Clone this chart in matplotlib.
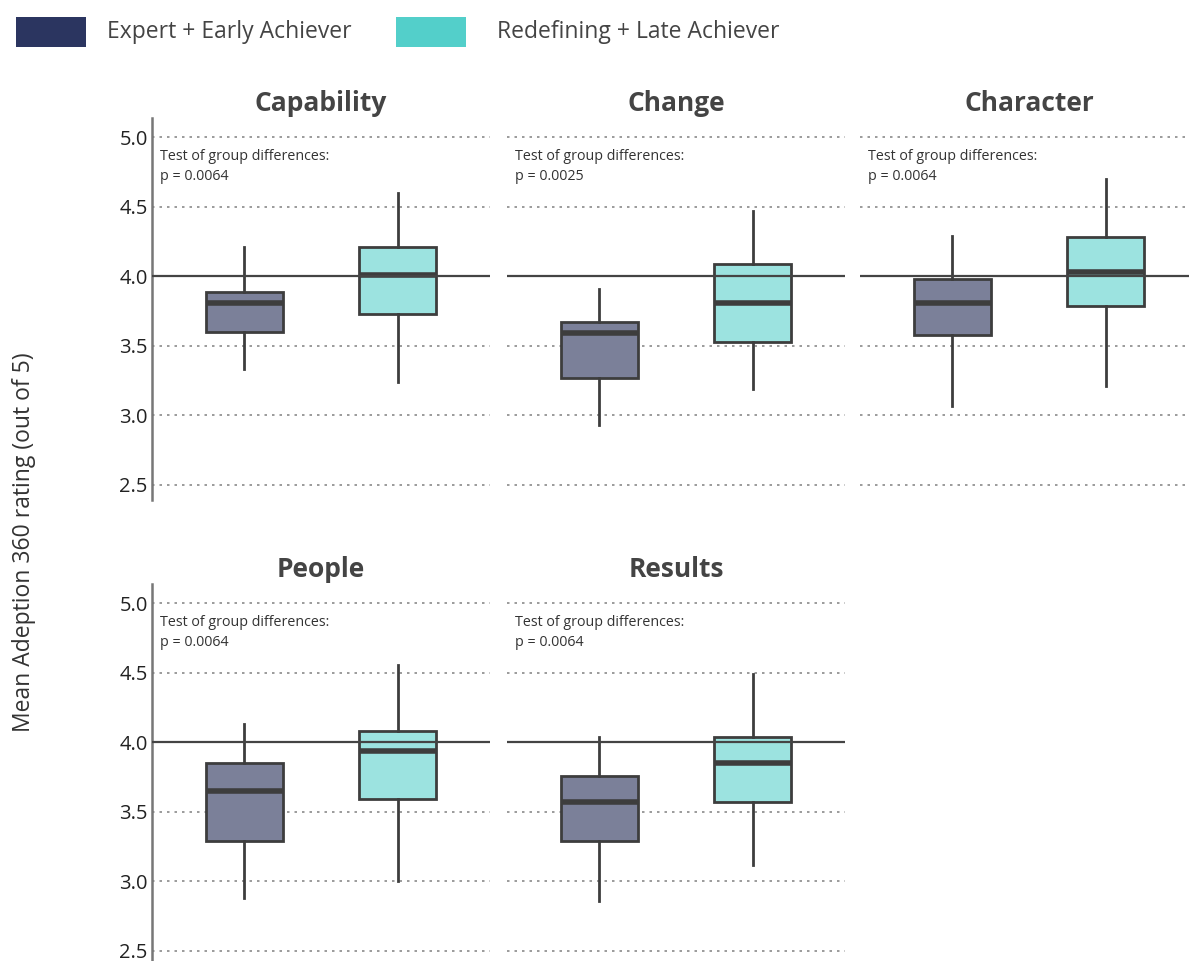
import matplotlib
matplotlib.use("Agg")
import matplotlib.pyplot as plt
from matplotlib.patches import Rectangle

plt.rcParams['font.family'] = ['Open Sans', 'DejaVu Sans']

# competency panels, in drawing order
panels = ['Capability', 'Change', 'Character', 'People', 'Results']
p_values = ['0.0064', '0.0025', '0.0064', '0.0064', '0.0064']
groups = ['Expert + Early Achiever', 'Redefining + Late Achiever']

# box statistics per panel: [early group, late group]
whis_low = [[3.33, 3.24], [2.93, 3.19], [3.07, 3.21], [2.88, 3.00], [2.86, 3.12]]
q1 = [[3.60, 3.73], [3.27, 3.53], [3.58, 3.79], [3.29, 3.59], [3.29, 3.57]]
median = [[3.81, 4.01], [3.59, 3.81], [3.81, 4.03], [3.65, 3.94], [3.57, 3.85]]
q3 = [[3.89, 4.21], [3.67, 4.09], [3.98, 4.28], [3.85, 4.08], [3.76, 4.04]]
whis_high = [[4.21, 4.60], [3.91, 4.47], [4.29, 4.70], [4.13, 4.56], [4.04, 4.49]]

y_ticks = [2.5, 3.0, 3.5, 4.0, 4.5, 5.0]
reference_line = 4.0

legend_colors = ['#2b3560', '#53cfca']
box_colors = ['#7b8099', '#9ce3e0']
edge = '#3d3d3d'

W, H = 1189, 961
fig = plt.figure(figsize=(W / 100, H / 100), dpi=100)

col_left = [152, 507, 860]
row_top = [118, 584]
ax_w, ax_h = 338, 382

axes = []
for i, name in enumerate(panels):
    r, c = divmod(i, 3)
    left = col_left[c] / W
    bottom = 1 - (row_top[r] + ax_h) / H
    ax = fig.add_axes([left, bottom, ax_w / W, ax_h / H])
    axes.append(ax)

    stats = []
    for g in range(2):
        stats.append(dict(whislo=whis_low[i][g], q1=q1[i][g], med=median[i][g],
                          q3=q3[i][g], whishi=whis_high[i][g], fliers=[]))
    bp = ax.bxp(stats, positions=[0, 1], widths=0.5, patch_artist=True,
                showcaps=False, showfliers=False,
                boxprops=dict(edgecolor=edge, linewidth=2),
                medianprops=dict(color=edge, linewidth=4, solid_capstyle='butt'),
                whiskerprops=dict(color=edge, linewidth=2), zorder=3)
    for patch, col in zip(bp['boxes'], box_colors):
        patch.set_facecolor(col)

    for t in y_ticks:
        if t == reference_line:
            ax.axhline(t, color='#444444', linewidth=1.6, zorder=4)
        else:
            ax.axhline(t, color='#8a8a8a', linewidth=1.2, linestyle=(0, (1.5, 3)),
                       zorder=1)

    ax.set_xlim(-0.6, 1.6)
    ax.set_ylim(2.39, 5.14)
    ax.set_xticks([])
    ax.set_yticks(y_ticks)
    ax.set_title(name, fontsize=19, fontweight='bold', color='#444444', pad=5)
    for s in ['top', 'right', 'bottom']:
        ax.spines[s].set_visible(False)
    if c == 0:
        ax.spines['left'].set_color('#777777')
        ax.spines['left'].set_linewidth(1.8)
        ax.set_yticklabels([f'{t:.1f}' for t in y_ticks], fontsize=14.5, color='#222222')
        ax.tick_params(axis='y', length=0, pad=3)
    else:
        ax.spines['left'].set_visible(False)
        ax.tick_params(axis='y', length=0, labelleft=False)

    ax.text(0.023, 0.918, 'Test of group differences:\np = ' + p_values[i],
            transform=ax.transAxes, fontsize=10.3, color='#333333',
            va='top', ha='left', linespacing=1.45)

# legend across the top
legend_x = [16, 396]
legend_text_x = [107, 497]
for x, tx, col, label in zip(legend_x, legend_text_x, legend_colors, groups):
    fig.add_artist(Rectangle((x / W, 1 - 47 / H), 70 / W, 30 / H,
                             transform=fig.transFigure, facecolor=col,
                             edgecolor='none'))
    fig.text(tx / W, 1 - 32 / H, label, fontsize=16.5, color='#444444',
             va='center', ha='left')

fig.text(24 / W, 1 - 542 / H, 'Mean Adeption 360 rating (out of 5)', rotation=90,
         fontsize=16.5, color='#333333', va='center', ha='center')

fig.savefig('out.png', dpi=100)
